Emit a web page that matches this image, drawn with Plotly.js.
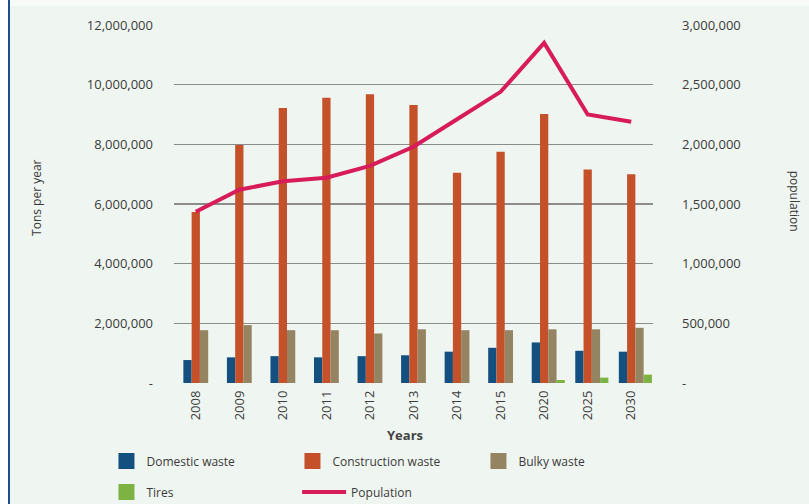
<!DOCTYPE html>
<html>
<head>
<meta charset="utf-8">
<script src="https://cdn.plot.ly/plotly-3.0.1.min.js"></script>
<style>
  html, body { margin: 0; padding: 0; background: #ffffff; }
  #frame { position: relative; width: 809px; height: 504px; background: #eff5f0; overflow: hidden; }
  #frame .edge-top { position: absolute; left: 0; top: 0; width: 809px; height: 6px; background: #f8faf8; }
  #frame .edge-left { position: absolute; left: 0; top: 0; width: 8px; height: 504px; background: #ffffff; }
  #frame .rule { position: absolute; left: 8px; top: 0; width: 2px; height: 504px; background: #1d4f8f; }
  #chart { position: absolute; left: 0; top: 0; width: 809px; height: 504px; }
</style>
</head>
<body>
<div id="frame">
  <div class="edge-top"></div>
  <div class="edge-left"></div>
  <div class="rule"></div>
  <div id="chart"></div>
</div>
<script>
// Waste generation by type (tons per year) and population, by year
const years = ['2008', '2009', '2010', '2011', '2012', '2013', '2014', '2015', '2020', '2025', '2030'];

const domesticWaste     = [770000, 860000, 900000, 860000, 900000, 930000, 1050000, 1180000, 1360000, 1080000, 1050000];
const constructionWaste = [5730000, 7980000, 9220000, 9560000, 9680000, 9320000, 7050000, 7750000, 9020000, 7160000, 7000000];
const bulkyWaste        = [1770000, 1940000, 1770000, 1770000, 1660000, 1800000, 1770000, 1770000, 1800000, 1800000, 1850000];
const tires             = [0, 0, 0, 0, 0, 0, 0, 0, 100000, 180000, 280000];
const population        = [1435000, 1620000, 1690000, 1720000, 1820000, 1980000, 2210000, 2440000, 2850000, 2250000, 2190000];

const leftTickVals  = [0, 2000000, 4000000, 6000000, 8000000, 10000000, 12000000];
const leftTickText  = ['-', '2,000,000', '4,000,000', '6,000,000', '8,000,000', '10,000,000', '12,000,000'];
const rightTickVals = [0, 500000, 1000000, 1500000, 2000000, 2500000, 3000000];
const rightTickText = ['-', '500,000', '1,000,000', '1,500,000', '2,000,000', '2,500,000', '3,000,000'];

const colors = {
  domestic: '#14507f',
  construction: '#c4512a',
  bulky: '#948462',
  tires: '#7db343',
  population: '#d81b5a'
};

const FONT = 'Open Sans, Noto Sans, sans-serif';
const TEXT = '#3b3b3b';
const BW = 0.19;   // bar width in category units

function barTrace(values, color, offset) {
  return {
    type: 'bar', x: years, y: values,
    marker: { color: color, line: { width: 0 } },
    width: BW, offset: offset,
    showlegend: false, hoverinfo: 'skip'
  };
}

// legend swatches (squares), kept off the plotting area
function swatch(name, color, legend) {
  return {
    type: 'scatter', mode: 'markers', x: [null], y: [null], name: name,
    marker: { symbol: 'square', size: 16, color: color },
    legend: legend, showlegend: true, hoverinfo: 'skip'
  };
}

const data = [
  barTrace(domesticWaste, colors.domestic, -1.5 * BW),
  barTrace(constructionWaste, colors.construction, -0.5 * BW),
  barTrace(bulkyWaste, colors.bulky, 0.5 * BW),
  barTrace(tires, colors.tires, 1.5 * BW),
  swatch('Domestic waste', colors.domestic, 'legend'),
  swatch('Construction waste', colors.construction, 'legend'),
  swatch('Bulky waste', colors.bulky, 'legend'),
  swatch('Tires', colors.tires, 'legend3'),
  {
    type: 'scatter', mode: 'lines', x: years, y: population, yaxis: 'y2',
    name: 'Population', line: { color: colors.population, width: 4 },
    legend: 'legend2', hoverinfo: 'skip'
  }
];

const legendCommon = {
  orientation: 'h', xanchor: 'left', yanchor: 'middle',
  entrywidth: 141, entrywidthmode: 'pixels',
  bgcolor: 'rgba(0,0,0,0)', borderwidth: 0,
  font: { family: FONT, size: 12, color: TEXT },
  traceorder: 'normal'
};

const layout = {
  width: 809, height: 504,
  margin: { l: 174, r: 156, t: 25, b: 121, pad: 0, autoexpand: false },
  paper_bgcolor: 'rgba(0,0,0,0)',
  plot_bgcolor: 'rgba(0,0,0,0)',
  font: { family: FONT, size: 13, color: TEXT },
  barmode: 'overlay',
  xaxis: {
    type: 'category', range: [-0.5, 10.5],
    tickangle: -90, ticks: '', showline: false, showgrid: false, zeroline: false,
    ticklabelstandoff: 4,
    tickfont: { family: FONT, size: 13, color: TEXT }
  },
  yaxis: {
    range: [0, 12000000], tickvals: leftTickVals, ticktext: leftTickText,
    showgrid: true, gridcolor: '#8c8c8c', gridwidth: 1.5,
    zeroline: false, showline: false, ticks: '',
    ticklabelstandoff: 20,
    tickfont: { family: FONT, size: 13, color: TEXT }
  },
  yaxis2: {
    overlaying: 'y', side: 'right',
    range: [0, 3000000], tickvals: rightTickVals, ticktext: rightTickText,
    showgrid: false, zeroline: false, showline: false, ticks: '',
    ticklabelstandoff: 28,
    tickfont: { family: FONT, size: 13, color: TEXT }
  },
  legend: Object.assign({}, legendCommon, { x: -0.141, y: -0.218 }),
  legend3: Object.assign({}, legendCommon, { x: -0.141, y: -0.3045 }),
  legend2: Object.assign({}, legendCommon, { x: 0.257, y: -0.3045, itemwidth: 44 }),
  annotations: [
    { text: 'Years', xref: 'paper', yref: 'paper', x: 0.483, y: -0.145,
      xanchor: 'center', yanchor: 'middle', showarrow: false,
      font: { family: FONT, size: 13, color: '#444444', weight: 'bold' } },
    { text: 'Tons per year', xref: 'paper', yref: 'paper', x: -0.286, y: 0.517,
      xanchor: 'center', yanchor: 'middle', textangle: -90, showarrow: false,
      font: { family: FONT, size: 12, color: TEXT } },
    { text: 'population', xref: 'paper', yref: 'paper', x: 1.296, y: 0.507,
      xanchor: 'center', yanchor: 'middle', textangle: 90, showarrow: false,
      font: { family: FONT, size: 12, color: TEXT } }
  ]
};

Plotly.newPlot('chart', data, layout, { staticPlot: true, displayModeBar: false });
</script>
</body>
</html>
